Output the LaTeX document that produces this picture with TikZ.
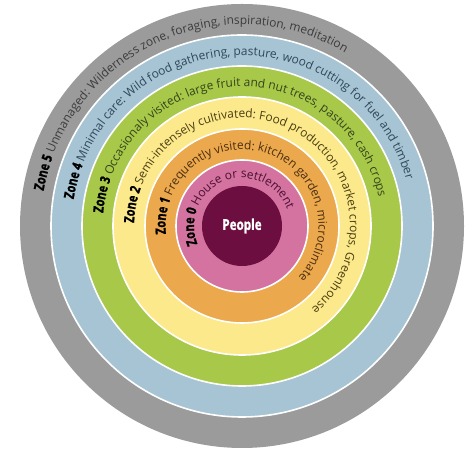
\documentclass[tikz,border=0pt]{standalone}
\usepackage{fontspec}
\setmainfont{Open Sans}
\newfontfamily\zonefont{Open Sans}[FakeStretch=0.78, FakeBold=1.2]
\usetikzlibrary{decorations.text}
\definecolor{cgray}{HTML}{9B9B9B}
\definecolor{cblue}{HTML}{A6C4D4}
\definecolor{cgreen}{HTML}{A8C84A}
\definecolor{cyellow}{HTML}{FCE98C}
\definecolor{corange}{HTML}{EBA84C}
\definecolor{cpink}{HTML}{D472A0}
\definecolor{cdark}{HTML}{6C0F40}
\definecolor{tgray}{HTML}{3C3C3C}
\definecolor{tblue}{HTML}{2F4858}
\definecolor{tgreen}{HTML}{34441A}
\definecolor{tyellow}{HTML}{4A3E10}
\definecolor{torange}{HTML}{4A2E10}
\definecolor{tpink}{HTML}{4A1030}
\newcommand{\zlab}{\zonefont\bfseries\fontsize{14}{14}\selectfont\color{black}}
\newcommand{\dlab}[1]{\fontsize{12}{12}\selectfont\color{#1}}
\tikzset{
  ring/.style={fill=#1, draw=white, line width=1.6bp},
  ringtext/.style={decorate, decoration={text along path, text align=left, text format delimiters={|}{|}}}
}
\begin{document}
\begin{tikzpicture}[x=1bp,y=1bp]
\useasboundingbox (0,0) rectangle (474,453);
\begin{scope}[shift={(242,227)}]
\fill[cgray] (0,0) circle[radius=222];
\path[ring=cblue] (0,0) circle[radius=191];
\path[ring=cgreen] (0,0) circle[radius=160];
\path[ring=cyellow] (0,0) circle[radius=129];
\path[ring=corange] (0,0) circle[radius=97];
\path[ring=cpink] (0,0) circle[radius=66];
\fill[cdark] (0,0) circle[radius=40];
\node[text=white, font=\zonefont\bfseries\fontsize{15}{15}\selectfont] (people) at (0,0) {People};
\path[ringtext, decoration={text={|\zlab|Zone 5 |\dlab{tgray}|Unmanaged: Wilderness zone, foraging, inspiration, meditation}}]
  (170:201.5) arc[start angle=170, end angle=-160, radius=201.5];
\path[ringtext, decoration={text={|\zlab|Zone 4 |\dlab{tblue}|Minimal care: Wild food gathering, pasture, wood cutting for fuel and timber}}]
  (171:170.5) arc[start angle=171, end angle=-160, radius=170.5];
\path[ringtext, decoration={text={|\zlab|Zone 3 |\dlab{tgreen}|Occasionaly visited: large fruit and nut trees, pasture, cash crops}}]
  (174.7:139.5) arc[start angle=174.7, end angle=-160, radius=139.5];
\path[ringtext, decoration={text={|\zlab|Zone 2 |\dlab{tyellow}|Semi-intensely cultivated: Food production, market crops, Greenhouse}}]
  (178.4:108) arc[start angle=178.4, end angle=-160, radius=108];
\path[ringtext, decoration={text={|\zlab|Zone 1 |\dlab{torange}|Frequently visited: kitchen garden, microclimate}}]
  (186:76.5) arc[start angle=186, end angle=-160, radius=76.5];
\path[ringtext, decoration={text={|\zlab|Zone 0 |\dlab{tpink}|House or settlement}}]
  (202:48) arc[start angle=202, end angle=-140, radius=48];
\end{scope}
\end{tikzpicture}
\end{document}
